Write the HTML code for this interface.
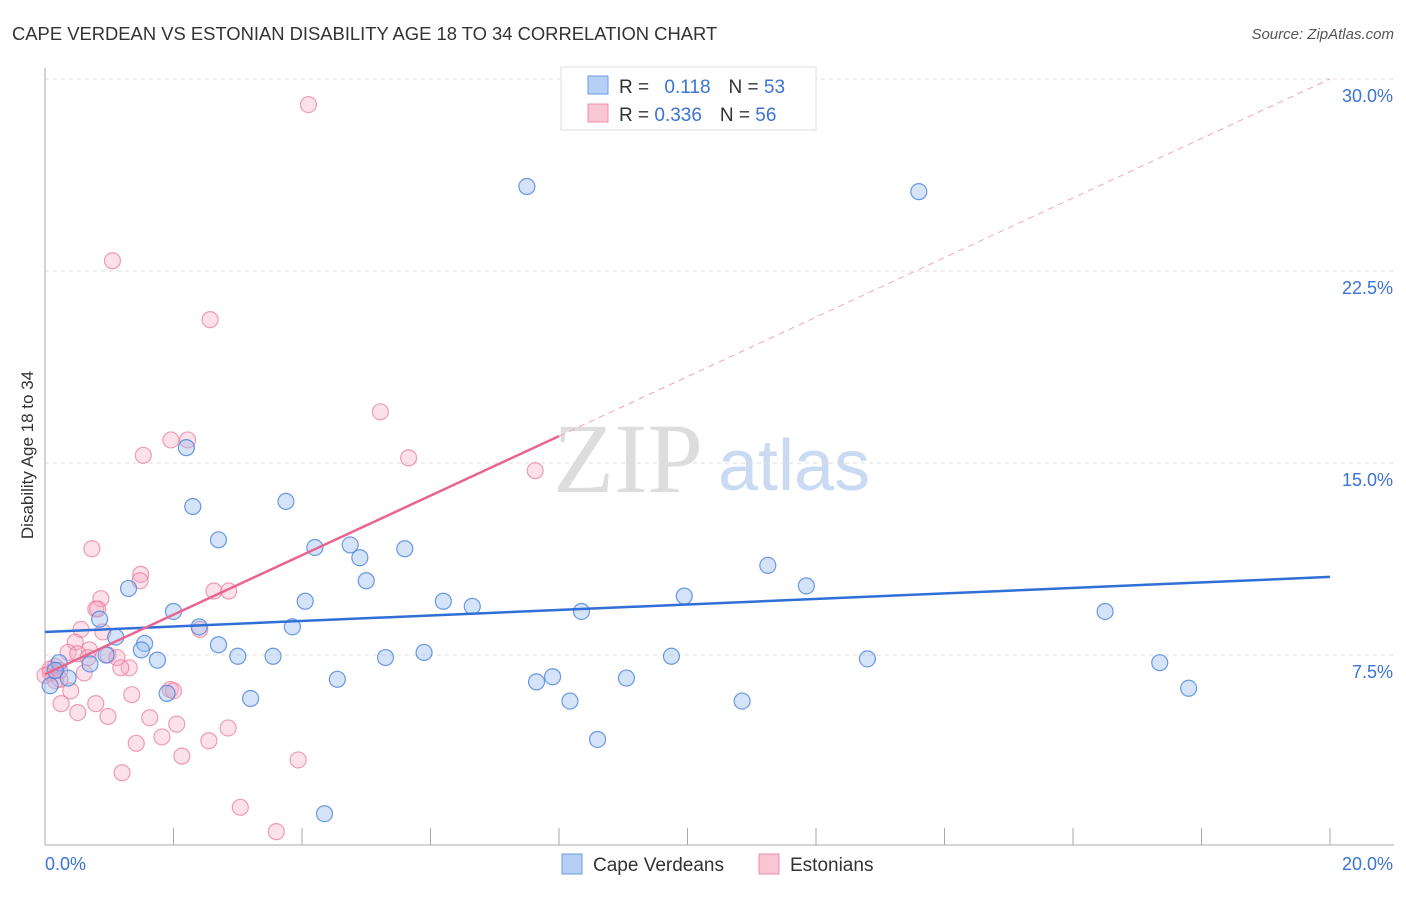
<!DOCTYPE html>
<html><head><meta charset="utf-8"><style>
body{margin:0;background:#fff;font-family:"Liberation Sans",sans-serif;}
svg text{font-family:"Liberation Sans",sans-serif;}
</style></head><body>
<svg id="chart" width="1406" height="892">
<text x="12" y="40" font-size="18.4" fill="#333">CAPE VERDEAN VS ESTONIAN DISABILITY AGE 18 TO 34 CORRELATION CHART</text>
<text x="1394" y="39" font-size="15" fill="#555" text-anchor="end" font-style="italic">Source: ZipAtlas.com</text>
<text transform="translate(33,455) rotate(-90)" font-size="17" fill="#333" text-anchor="middle">Disability Age 18 to 34</text>
<text x="553" y="492" font-size="100" fill="#ddd" style="font-family:'Liberation Serif',serif">ZIP</text>
<text x="718" y="490" font-size="72" fill="#c9daf2">atlas</text>
<g id="grid"></g><g id="axes"></g><g id="lines"></g><g id="pts"></g>
<g>
<rect x="561" y="67" width="255" height="63" fill="#fff" stroke="#ddd"/>
<rect x="588" y="76" width="20" height="18" fill="#b7d0f5" stroke="#6b9be0"/>
<rect x="588" y="104" width="20" height="18" fill="#f9c6d4" stroke="#ec8fab"/>
<text x="619" y="93" font-size="19" fill="#333">R = <tspan fill="#3b73d6" dx="10">0.118</tspan><tspan fill="#333" dx="18">N = </tspan><tspan fill="#3b73d6">53</tspan></text>
<text x="619" y="121" font-size="19" fill="#333">R = <tspan fill="#3b73d6">0.336</tspan><tspan fill="#333" dx="18">N = </tspan><tspan fill="#3b73d6">56</tspan></text>
</g>
<g>
<rect x="562" y="854" width="20" height="20" fill="#b7d0f5" stroke="#6b9be0"/>
<text x="593" y="871" font-size="19" fill="#333">Cape Verdeans</text>
<rect x="759" y="854" width="20" height="20" fill="#f9c6d4" stroke="#ec8fab"/>
<text x="790" y="871" font-size="19" fill="#333">Estonians</text>
</g>
</svg>
<script>
const yTicks=[7.5,15,22.5,30];
const yTickLabels=["7.5%","15.0%","22.5%","30.0%"];
const xTickLabels=["0.0%","20.0%"];
const blueX=[7.5,13.6,2.2,2.3,3.75,2.7,4.2,4.75,4.9,5.6,5.0,1.3,4.05,6.2,6.65,8.35,9.95,11.25,11.85,16.5,2.0,0.85,2.4,3.85,1.1,1.55,2.7,1.5,0.95,1.75,3.0,3.55,5.3,5.9,9.75,12.8,17.35,0.7,0.22,0.36,4.55,7.9,7.65,9.05,1.9,3.2,8.17,10.85,17.8,8.6,4.35,0.08,0.16];
const blueY=[25.8,25.6,15.6,13.3,13.5,12.0,11.7,11.8,11.3,11.65,10.4,10.1,9.6,9.6,9.4,9.2,9.8,11.0,10.2,9.2,9.2,8.9,8.6,8.6,8.2,7.95,7.9,7.7,7.5,7.3,7.45,7.45,7.4,7.6,7.45,7.35,7.2,7.15,7.2,6.6,6.55,6.65,6.45,6.6,6.0,5.8,5.7,5.7,6.2,4.2,1.3,6.3,6.9];
const pinkX=[4.1,1.05,2.57,5.22,1.96,2.22,1.53,5.66,7.63,0.73,1.49,1.48,0.87,0.79,0.82,2.63,2.86,0.56,2.41,0.47,0.9,0.69,0.36,0.51,0.67,0.98,1.12,1.31,1.18,0.61,0.16,0.08,0.23,0.4,1.35,1.95,2.0,0.25,0.79,0.51,0.98,1.63,2.05,2.85,1.82,1.42,2.55,2.13,1.2,3.94,3.04,3.6,0.08,0.16,0,0.23];
const pinkY=[29.0,22.9,20.6,17.0,15.9,15.9,15.3,15.2,14.7,11.65,10.65,10.4,9.7,9.3,9.3,10.0,10.0,8.5,8.5,8.0,8.4,7.7,7.6,7.55,7.4,7.5,7.4,7.0,7.0,6.8,7.05,6.8,6.55,6.1,5.95,6.15,6.1,5.6,5.6,5.25,5.1,5.05,4.8,4.65,4.3,4.05,4.15,3.55,2.9,3.4,1.55,0.6,6.95,6.5,6.7,6.9];
const blueLine=[8.4,10.55];
const pinkLine=[6.75,30.0];
const pinkSolidEnd=8.0;
const sx=v=>45+v*64.25, sy=v=>847-v*25.6;
const NS="http://www.w3.org/2000/svg";
function mk(p,t,a){const e=document.createElementNS(NS,t);for(const k in a)e.setAttribute(k,a[k]);p.appendChild(e);return e;}
const gridG=document.getElementById('grid'),axesG=document.getElementById('axes'),linesG=document.getElementById('lines'),ptsG=document.getElementById('pts');
yTicks.forEach((t,i)=>{
 const g=mk(gridG,'line',{x1:45,x2:1394,y1:sy(t),y2:sy(t),stroke:'#ddd','stroke-dasharray':'4,4'});
 
 
 const l=mk(axesG,'text',{x:1393,y:sy(t)+23,'font-size':18,fill:'#3b73d6','text-anchor':'end'});l.textContent=yTickLabels[i];
 
 
});
mk(axesG,'line',{x1:45,x2:45,y1:68,y2:845,stroke:'#aaa'});
const xa=mk(axesG,'line',{x1:45,x2:1394,y1:845,y2:845,stroke:'#aaa'});


for(let i=0;i<=20;i+=2){const tk=mk(axesG,'line',{x1:sx(i),x2:sx(i),y1:828,y2:845,stroke:'#aaa'});
 
 }
[[45,'start'],[1393,'end']].forEach((d,i)=>{const t=mk(axesG,'text',{x:d[0],y:870,'font-size':18,fill:'#3b73d6','text-anchor':d[1]});t.textContent=xTickLabels[i];
 
 });
const pAt=x=>pinkLine[0]+(pinkLine[1]-pinkLine[0])*x/20;
const pd=mk(linesG,'line',{x1:sx(pinkSolidEnd),y1:sy(pAt(pinkSolidEnd)),x2:sx(20),y2:sy(pAt(20)),stroke:'#f0a5bd','stroke-width':1,'stroke-dasharray':'6,5'});


pinkX.forEach((x,i)=>{const c=mk(ptsG,'circle',{cx:sx(x),cy:sy(pinkY[i]),r:8,fill:'rgba(246,170,195,0.35)',stroke:'rgba(232,120,155,0.7)','stroke-width':1.2});
 
 });
blueX.forEach((x,i)=>{const c=mk(ptsG,'circle',{cx:sx(x),cy:sy(blueY[i]),r:8,fill:'rgba(150,185,240,0.4)',stroke:'rgba(70,130,220,0.8)','stroke-width':1.2});
 
 });
const bl=mk(ptsG,'line',{x1:sx(0),y1:sy(blueLine[0]),x2:sx(20),y2:sy(blueLine[1]),stroke:'#2f6fd6','stroke-width':2.5});


const pl=mk(ptsG,'line',{x1:sx(0),y1:sy(pAt(0)),x2:sx(pinkSolidEnd),y2:sy(pAt(pinkSolidEnd)),stroke:'#e8658f','stroke-width':2.5});


</script>
</body></html>
